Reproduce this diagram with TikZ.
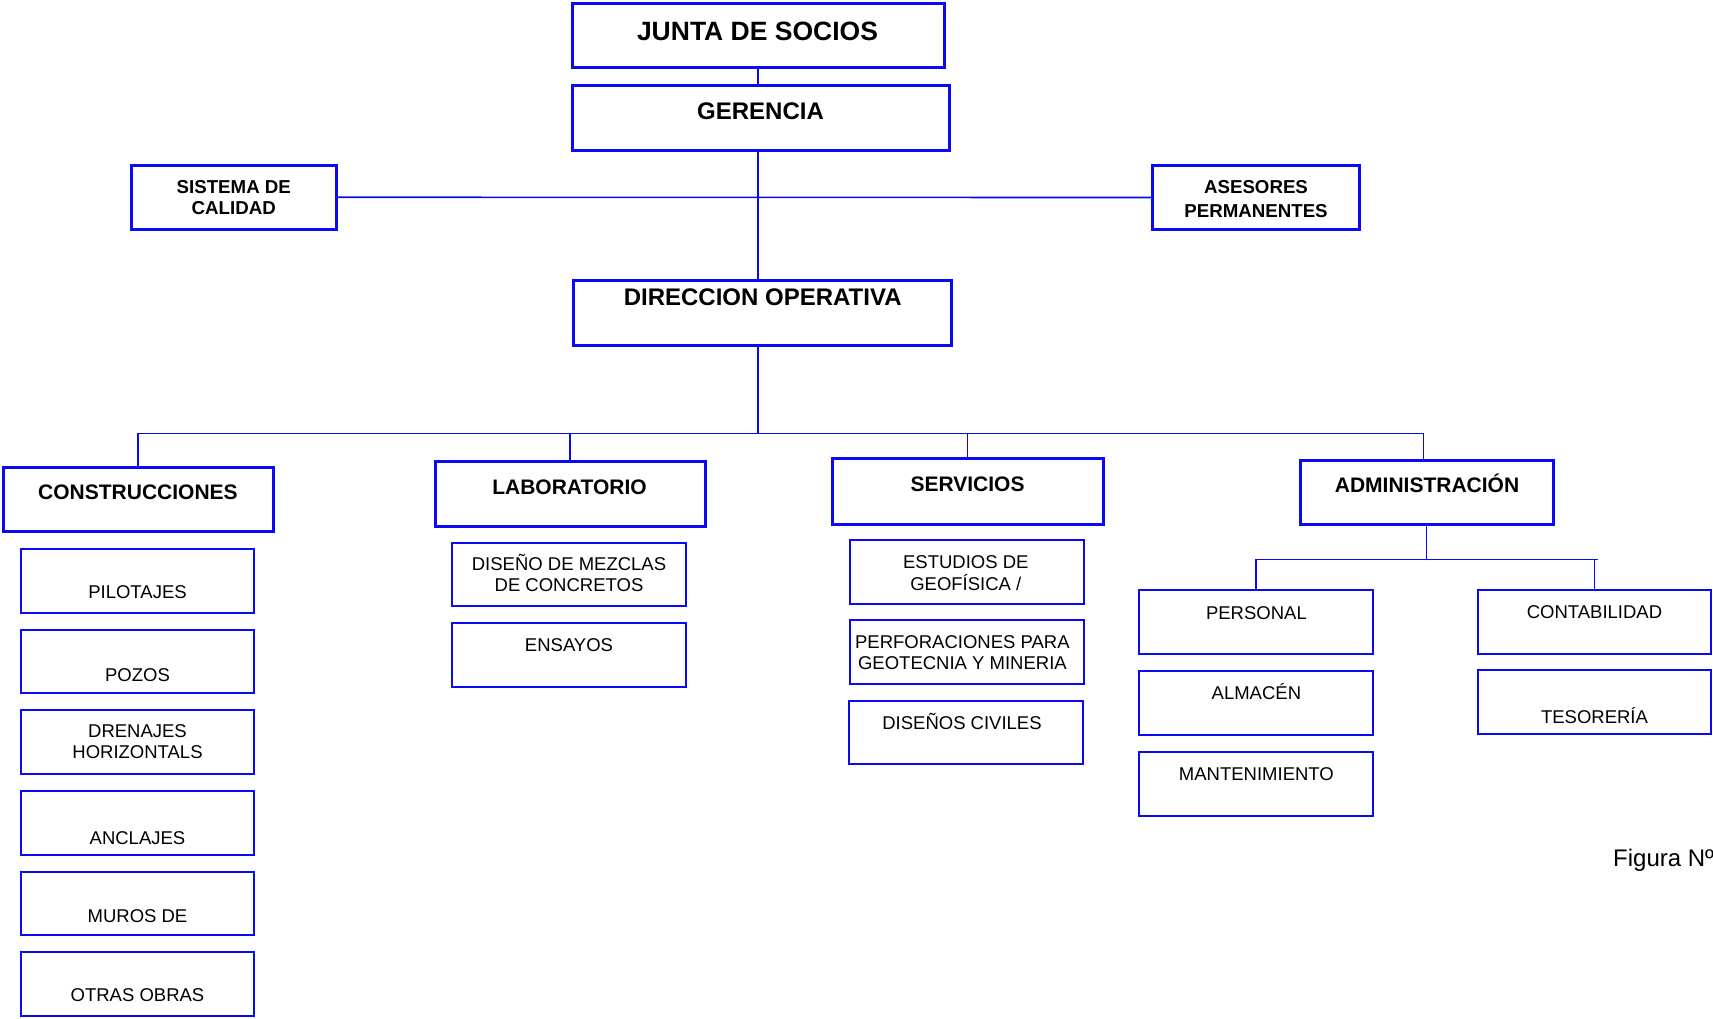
\documentclass[tikz,border=0pt]{standalone}
\usepackage{fontspec}
\setmainfont{Liberation Sans}
\definecolor{orgblue}{RGB}{10,10,245}
\newcommand\obox[6]{\node[#6, minimum width={(#4)-(#2)}, minimum height={(#5)-(#3)}] (#1) at ({((#2)+(#4))/2},{((#3)+(#5))/2}) {};}
\begin{document}
\begin{tikzpicture}[x=1pt,y=-1pt,
  thickbox/.style={draw=orgblue, line width=3pt, inner sep=0pt, outer sep=0pt, rectangle},
  thinbox/.style={draw=orgblue, line width=2pt, inner sep=0pt, outer sep=0pt, rectangle},
  conn/.style={draw=orgblue, line width=1.6pt},
  ttop/.style={inner sep=0pt, anchor=base, font=\bfseries\fontsize{26.5}{30}\selectfont},
  tmain/.style={inner sep=0pt, anchor=base, font=\bfseries\fontsize{24}{28}\selectfont},
  tside/.style={inner sep=0pt, anchor=north, align=center, font=\bfseries\fontsize{18.7}{21}\selectfont},
  tdept/.style={inner sep=0pt, anchor=base, font=\bfseries\fontsize{21}{25}\selectfont},
  tsub/.style={inner sep=0pt, anchor=base, font=\fontsize{18.5}{21}\selectfont},
  tsubm/.style={inner sep=0pt, anchor=north, align=center, font=\fontsize{18.5}{21}\selectfont},
  ]
\useasboundingbox (0,0) rectangle (1713,1018);
% top level boxes
\obox{junta}{572}{3}{944}{67}{thickbox}
\obox{gerencia}{572}{85}{949}{150}{thickbox}
\obox{direccion}{573}{280}{951}{345}{thickbox}
\obox{sistema}{131}{165}{336.5}{229.5}{thickbox}
\obox{asesores}{1152}{165.5}{1359}{229.5}{thickbox}
% departments
\obox{constr}{3.3}{467.6}{273}{531.4}{thickbox}
\obox{lab}{435}{461}{705}{526}{thickbox}
\obox{serv}{832}{458.5}{1103}{524}{thickbox}
\obox{admin}{1300}{460.3}{1553}{524.5}{thickbox}
% construcciones children
\obox{pil}{20.7}{548.5}{254.3}{612.7}{thinbox}
\obox{pozos}{20.7}{629.5}{254.3}{693.3}{thinbox}
\obox{dren}{20.7}{710.2}{254.3}{773.6}{thinbox}
\obox{ancl}{20.7}{791.3}{254.3}{855}{thinbox}
\obox{muros}{20.7}{872}{254.3}{935.4}{thinbox}
\obox{otras}{20.7}{952.3}{254.3}{1015.7}{thinbox}
% laboratorio children
\obox{dis}{452.3}{542.5}{686}{606}{thinbox}
\obox{ens}{452.3}{622.8}{686}{687}{thinbox}
% servicios children
\obox{est}{850}{540}{1084}{603.7}{thinbox}
\obox{perf}{850}{620.2}{1084}{684.4}{thinbox}
\obox{civ}{849}{700.6}{1083}{764.4}{thinbox}
% administracion children
\obox{pers}{1139.3}{590.3}{1373.3}{654}{thinbox}
\obox{alm}{1139.3}{671}{1373.3}{735}{thinbox}
\obox{mant}{1139.3}{751.5}{1373.3}{816}{thinbox}
\obox{cont}{1477.7}{590}{1711}{653.5}{thinbox}
\obox{tes}{1477.7}{670.4}{1711}{734.1}{thinbox}
% texts
\node[ttop] (tjunta) at (757.5,40.5) {JUNTA DE SOCIOS};
\node[tmain] (tger) at (760.5,119) {GERENCIA};
\node[tmain] (tdir) at (762.7,305) {DIRECCION OPERATIVA};
\node[tside] (tsis) at (233.8,180.2) {SISTEMA DE\\CALIDAD};
\node[tside, font=\bfseries\fontsize{18.7}{24.5}\selectfont] (tase) at (1256,180.2) {ASESORES\\PERMANENTES};
\node[tdept] (tconstr) at (138,499) {CONSTRUCCIONES};
\node[tdept] (tlab) at (569.5,494) {LABORATORIO};
\node[tdept] (tserv) at (967.5,491) {SERVICIOS};
\node[tdept] (tadmin) at (1427,492.8) {ADMINISTRACIÓN};
\node[tsub] (tpil) at (137.5,598) {PILOTAJES};
\node[tsub] (tpoz) at (137.5,681.6) {POZOS};
\node[tsubm] (tdren) at (137.5,724.6) {DRENAJES\\HORIZONTALS};
\node[tsub] (tancl) at (137.5,844) {ANCLAJES};
\node[tsub] (tmur) at (137.5,922) {MUROS DE};
\node[tsub] (totr) at (137.5,1001.3) {OTRAS OBRAS};
\node[tsubm] (tdis) at (569,554.3) {DISEÑO DE MEZCLAS\\DE CONCRETOS};
\node[tsub] (tens) at (569,651.2) {ENSAYOS};
\node[tsubm, font=\fontsize{18.5}{22}\selectfont] (test) at (965.8,555) {ESTUDIOS DE\\GEOFÍSICA /};
\node[tsubm] (tperf) at (962.4,635.8) {PERFORACIONES PARA\\GEOTECNIA Y MINERIA};
\node[tsub] (tciv) at (962,729.3) {DISEÑOS CIVILES};
\node[tsub] (tpers) at (1256.4,619.3) {PERSONAL};
\node[tsub] (talm) at (1256.4,699.5) {ALMACÉN};
\node[tsub] (tmant) at (1256.4,780.2) {MANTENIMIENTO};
\node[tsub] (tcont) at (1594.5,618.4) {CONTABILIDAD};
\node[tsub] (ttes) at (1594.5,723) {TESORERÍA};
\node[inner sep=0pt, anchor=base west, font=\fontsize{24}{28}\selectfont] (fig) at (1613,866.7) {Figura Nº};
% connectors
\draw[conn] (junta.south) -- (junta.south |- gerencia.north);
\draw[conn] (gerencia.south -| junta.south) -- (direccion.north -| junta.south);
\draw[conn] (sistema.east) -- (asesores.west);
\coordinate (busC) at (758,433.3);
\coordinate (busL) at (137.7,433.3);
\coordinate (busR) at (1423.5,433.3);
\draw[conn] (direccion.south -| busC) -- (busC);
\draw[conn] (busL) -- (busR);
\draw[conn] (busL) -- (busL |- constr.north);
\draw[conn] (lab.north |- busL) -- (lab.north);
\draw[conn] (serv.north |- busL) -- (serv.north);
\draw[conn] (busR) -- (busR |- admin.north);
\coordinate (abL) at (1256,559.3);
\coordinate (abR) at (1597.5,559.3);
\draw[conn] (admin.south) -- (admin.south |- abL);
\draw[conn] (abL) -- (abR);
\draw[conn] (abL) -- (abL |- pers.north);
\draw[conn] (cont.north |- abL) -- (cont.north);
\end{tikzpicture}
\end{document}
